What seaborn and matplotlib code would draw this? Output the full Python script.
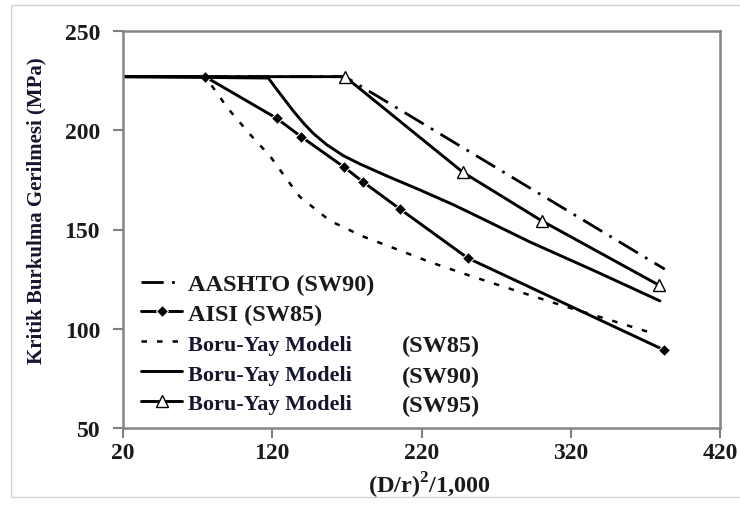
import matplotlib
matplotlib.use("Agg")
import matplotlib.pyplot as plt
import seaborn as sns
from matplotlib.patches import Rectangle

sns.set_theme(style="white")
plt.rcParams['font.family'] = ['Liberation Serif', 'DejaVu Serif']
plt.rcParams['font.weight'] = 'bold'
plt.rcParams['axes.labelweight'] = 'bold'
plt.rcParams['mathtext.fontset'] = 'custom'
plt.rcParams['mathtext.bf'] = 'Liberation Serif:bold'
plt.rcParams['mathtext.rm'] = 'Liberation Serif:bold'

# ---- data ----
aashto_x = [20, 168.7, 383]
aashto_y = [227, 227, 130]

aisi_x = [20, 75, 123, 139.3, 168, 180.8, 205.6, 251, 382.5]
aisi_y = [227, 227, 206, 196.8, 181.5, 174, 160.3, 135.6, 89.3]

sw85_x = [20, 75, 82.8, 89.5, 105, 118.5, 132, 138.6, 158.7, 180.8, 203.6,
          225.7, 252.5, 284, 314.8, 348, 372]
sw85_y = [227, 227, 219, 211.7, 198, 187, 173, 166.4, 154.4, 146.5, 140,
          133.6, 126.7, 119, 111.6, 104, 98.4]

sw90_x = [20, 117.4, 123.0, 134.1, 140.8, 147.5, 156.5, 167.6, 178.8, 196.7,
          219.0, 241.3, 259.2, 292.7, 337.6, 379.8]
sw90_y = [227, 226.3, 220.6, 209.7, 203.7, 198.4, 192.7, 187.2, 183.0, 177.0,
          169.9, 162.5, 156.0, 143.7, 128.6, 114]

sw95_x = [20, 168.7, 247.8, 300.5, 379]
sw95_y = [227, 227, 178.8, 154.4, 122]

x_ticks = [20, 120, 220, 320, 420]
y_ticks = [50, 100, 150, 200, 250]
sw_tags = ["(SW85)", "(SW90)", "(SW95)"]

navy = "#15152e"
ink = "#1a1a1a"

fig = plt.figure(figsize=(7.4, 5.06), dpi=100)
ax = fig.add_axes([123/740, 1-429/506, (720-123)/740, (429-32)/506])

common = dict(ax=ax, color="black", sort=False, estimator=None)
sns.lineplot(x=aashto_x, y=aashto_y, lw=2.0, linestyle=(0, (8, 3, 1, 3)),
             label="AASHTO (SW90)", **common)
sns.lineplot(x=aisi_x, y=aisi_y, lw=2.1, marker="D", markersize=6.5,
             markevery=list(range(1, len(aisi_x))), label="AISI (SW85)", **common)
sns.lineplot(x=sw85_x, y=sw85_y, lw=1.8, linestyle=(0, (2.2, 4)),
             label="Boru-Yay Modeli", **common)
sns.lineplot(x=sw90_x, y=sw90_y, lw=2.1, label="Boru-Yay Modeli", **common)
sns.lineplot(x=sw95_x, y=sw95_y, lw=2.1, marker="^", markersize=8,
             markerfacecolor="white", markeredgecolor="black", markeredgewidth=1.0,
             markevery=list(range(1, len(sw95_x))), label="Boru-Yay Modeli", **common)

ax.set_xlim(20, 420)
ax.set_ylim(50, 250)
ax.set_xticks(x_ticks)
ax.set_yticks(y_ticks)
ax.tick_params(axis="both", direction="out", length=7, width=1.5, color="#808080",
               labelsize=17, labelcolor=ink, left=True, bottom=True)
ax.tick_params(axis="y", pad=9.5)
ax.tick_params(axis="x", pad=3)
for lab in ax.get_xticklabels() + ax.get_yticklabels():
    lab.set_fontweight("bold")
for sp in ax.spines.values():
    sp.set_color("#858585")
    sp.set_linewidth(1.8)

ax.set_xlabel("(D/r)$^{\\mathbf{2}}$/1,000", fontsize=17.5, fontweight="bold",
              color=ink)
ax.xaxis.set_label_coords(0.514, -0.104)
ax.set_ylabel("Kritik Burkulma Gerilmesi (MPa)", fontsize=15, fontweight="bold",
              color=navy)
ax.yaxis.set_label_coords(-0.129, 0.549)

leg = ax.legend(loc="upper left", bbox_to_anchor=(0.03, 0.39), frameon=False,
                handlelength=1.7, handletextpad=0.25, labelspacing=0.32,
                borderpad=0, borderaxespad=0, prop={"size": 17.5, "weight": "bold"})
texts = leg.get_texts()
for t in texts[:2]:
    t.set_color(ink)
for t in texts[2:]:
    t.set_fontsize(16)
    t.set_color(navy)

for tag, yy in zip(sw_tags, [0.207, 0.131, 0.056]):
    ax.text(0.467, yy, tag, transform=ax.transAxes, fontsize=17.5, fontweight="bold",
            color=ink, va="center", ha="left")

fig.patches.append(Rectangle((11/740, 1-498/506), 1.0, (498-6)/506,
                             transform=fig.transFigure, fill=False,
                             edgecolor="#d4d4d4", lw=1, zorder=-5))

fig.savefig("out.png", dpi=100)
